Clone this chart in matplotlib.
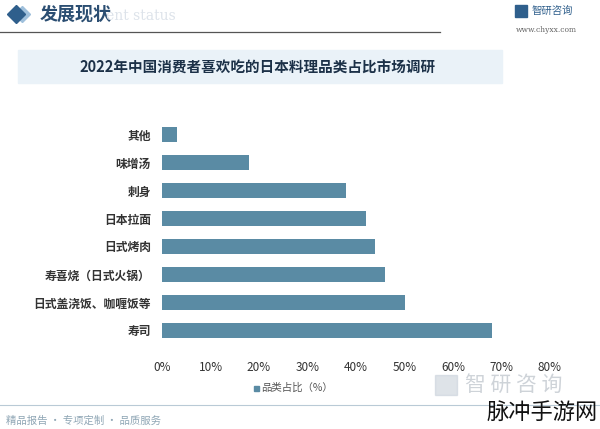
import matplotlib
matplotlib.use("Agg")
import matplotlib.pyplot as plt
from matplotlib.patches import Rectangle

plt.rcParams['font.family'] = ['Noto Sans CJK SC', 'DejaVu Sans']

categories = ["其他", "味增汤", "刺身", "日本拉面", "日式烤肉",
              "寿喜烧（日式火锅）", "日式盖浇饭、咖喱饭等", "寿司"]
values = [3, 18, 38, 42, 44, 46, 50, 68]
xticks = [0, 10, 20, 30, 40, 50, 60, 70, 80]
xticklabels = ["0%", "10%", "20%", "30%", "40%", "50%", "60%", "70%", "80%"]
title = "2022年中国消费者喜欢吃的日本料理品类占比市场调研"
legend_label = "品类占比（%）"

W, H = 600, 429
fig = plt.figure(figsize=(6, 4.29), dpi=100)
fig.patch.set_facecolor("white")

def fx(x):
    return x / W

def fy(y):
    return 1 - y / H

# header
fig.add_artist(plt.Line2D([fx(22)], [fy(14)], marker="D", markersize=8,
                          color="#9fc0dc", transform=fig.transFigure))
fig.add_artist(plt.Line2D([fx(16)], [fy(14)], marker="D", markersize=9.5,
                          color="#2f5f8c", transform=fig.transFigure))
fig.text(fx(40), fy(14), "发展现状", fontsize=13, fontweight="bold",
         color="#2b4e72", va="center", ha="left")
fig.text(fx(106), fy(16), "ent status", fontsize=10, color="#dde3ea",
         va="center", ha="left", family="DejaVu Serif")
fig.add_artist(plt.Line2D([0, fx(440)], [fy(32), fy(32)], color="#555555",
                          lw=0.9, transform=fig.transFigure))
# logo
fig.patches.append(Rectangle((fx(515), fy(17)), fx(12), 12 / H,
                             transform=fig.transFigure, color="#2f5f8c"))
fig.text(fx(532), fy(11), "智研咨询", fontsize=7.5, color="#2f5f8c",
         va="center", ha="left")
fig.text(fx(516), fy(30), "www.chyxx.com", fontsize=5.5, color="#666666",
         va="center", ha="left", family="DejaVu Serif")

# title box
fig.patches.append(Rectangle((fx(18), fy(83)), fx(484), 33 / H,
                             transform=fig.transFigure, color="#eaf2f8",
                             zorder=0))
fig.text(fx(258), fy(68), title, fontsize=10.5, fontweight="bold",
         color="#1c3148", ha="center", va="center")

# main axes
ax = fig.add_axes([fx(162), fy(344), fx(550 - 162), (344 - 121) / H])
ypos = list(range(len(categories)))
ax.barh(ypos, values, height=0.54, color="#5a8ba4")
ax.set_ylim(len(categories) - 0.5, -0.5)
ax.set_xlim(0, 80)
ax.set_yticks(ypos)
ax.set_yticklabels(categories, fontsize=8.5, fontweight="bold", color="#333333")
ax.set_xticks(xticks)
ax.set_xticklabels(xticklabels, fontsize=8.5, color="#333333")
ax.tick_params(axis="both", length=0)
ax.tick_params(axis="x", pad=12)
ax.tick_params(axis="y", pad=8)
for s in ax.spines.values():
    s.set_visible(False)
ax.set_facecolor("none")

# legend
fig.patches.append(Rectangle((fx(254), fy(391)), fx(5), 5 / H,
                             transform=fig.transFigure, color="#5a8ba4"))
fig.text(fx(261), fy(388), legend_label, fontsize=7.5, color="#555555",
         ha="left", va="center")

# watermark logo bottom right
fig.patches.append(Rectangle((fx(435), fy(395)), fx(22), 20 / H,
                             transform=fig.transFigure, color="#c9d1da",
                             alpha=0.6))
fig.text(fx(465), fy(385), "智 研 咨 询", fontsize=15, color="#c2c8cf",
         ha="left", va="center", alpha=0.8)

# footer
fig.add_artist(plt.Line2D([0, fx(600)], [fy(405), fy(405)], color="#b9cad6",
                          lw=0.8, transform=fig.transFigure))
fig.text(fx(6), fy(421), "精品报告 · 专项定制 · 品质服务", fontsize=7.5,
         color="#8fa6b5", ha="left", va="center")
fig.text(fx(598), fy(412), "脉冲手游网", fontsize=16, color="#111111",
         ha="right", va="center")

fig.savefig("out.png", dpi=100, facecolor="white")
